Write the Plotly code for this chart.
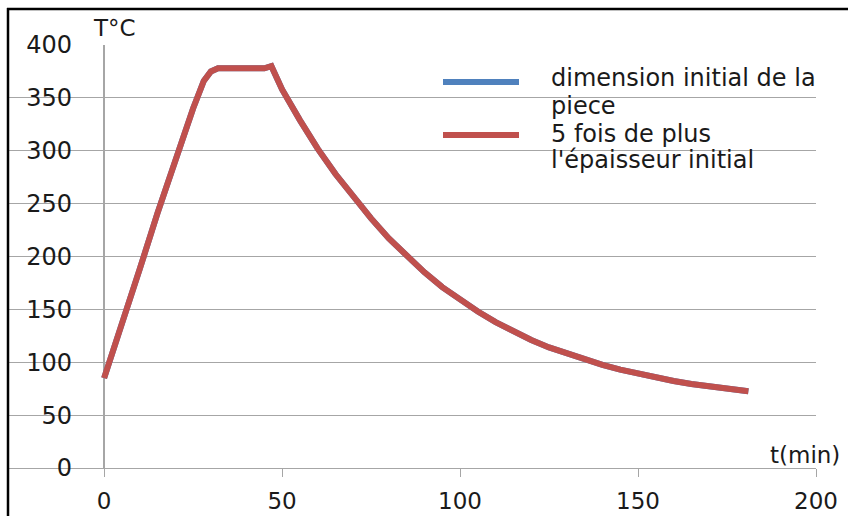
import plotly.graph_objects as go

# ---- data ----
t_min = [0, 5, 10, 15, 20, 25, 28, 30, 32, 35, 40, 45, 47,
         50, 55, 60, 65, 70, 75, 80, 85, 90, 95, 100, 105, 110, 115, 120,
         125, 130, 135, 140, 145, 150, 155, 160, 165, 170, 175, 181]
temp_initial = [85, 135, 188, 241, 291, 340, 366, 375, 378, 378, 378, 378, 380,
                358, 329, 302, 278, 256, 236, 217, 200, 185, 171, 159, 148, 138, 129, 121,
                114, 108, 102.5, 97.5, 93, 89, 85.5, 82.3, 79.5, 77, 74.8, 72.6]
temp_5x = list(temp_initial)

series_names = ["dimension initial de la piece", "5 fois de plus l'épaisseur initial"]
legend_lines = ["dimension initial de la", "piece", "5 fois de plus", "l'épaisseur initial"]
x_ticks = [0, 50, 100, 150, 200]
y_ticks = [0, 50, 100, 150, 200, 250, 300, 350, 400]

BLUE = "#4F81BD"
RED = "#C0504D"
GRID = "#A6A6A6"
TXT = "#1a1a1a"
FONT = "DejaVu Sans"

W, H = 848, 516
ML, MR, MT, MB = 8, 32, 45, 48
PW, PH = W - ML - MR, H - MT - MB


def px(xp):
    return (xp - ML) / PW


def py(yp):
    return (H - MB - yp) / PH


fig = go.Figure()
fig.add_trace(go.Scatter(x=t_min, y=temp_initial, mode="lines", name=series_names[0],
                         line=dict(color=BLUE, width=6)))
fig.add_trace(go.Scatter(x=t_min, y=temp_5x, mode="lines", name=series_names[1],
                         line=dict(color=RED, width=6)))

fig.update_layout(
    width=W, height=H,
    margin=dict(l=ML, r=MR, t=MT, b=MB),
    paper_bgcolor="white", plot_bgcolor="white",
    showlegend=False,
    font=dict(family=FONT, color=TXT),
    xaxis=dict(range=[-27, 200], tickvals=x_ticks, ticks="outside", ticklen=8,
               tickcolor=GRID, tickwidth=1, showgrid=False,
               zeroline=True, zerolinecolor=GRID, zerolinewidth=1.5,
               showline=True, linecolor=GRID, linewidth=1, ticklabelstandoff=4,
               automargin=False,
               tickfont=dict(size=23, family=FONT, color=TXT), anchor="y"),
    yaxis=dict(range=[0, 400], tickvals=y_ticks, ticks="", showgrid=True,
               gridcolor=GRID, gridwidth=1.2, zeroline=False, showline=False,
               anchor="free", position=px(72), automargin=False,
               tickfont=dict(size=24, family=FONT, color=TXT)),
)

shapes = [
    # legend background
    dict(type="rect", xref="paper", yref="paper", x0=px(522), x1=px(848),
         y0=py(178), y1=py(60), fillcolor="white", line=dict(width=0), layer="between"),
    # legend samples
    dict(type="line", xref="paper", yref="paper", x0=px(443), x1=px(519),
         y0=py(82), y1=py(82), line=dict(color=BLUE, width=6)),
    dict(type="line", xref="paper", yref="paper", x0=px(443), x1=px(519),
         y0=py(135), y1=py(135), line=dict(color=RED, width=6)),
    # frame
    dict(type="line", xref="paper", yref="paper", x0=px(8), x1=px(8),
         y0=py(530), y1=py(8), line=dict(color="black", width=2.5)),
    dict(type="line", xref="paper", yref="paper", x0=px(7), x1=px(860),
         y0=py(9), y1=py(9), line=dict(color="black", width=2.5)),
]
fig.update_layout(shapes=shapes)

ann = [
    dict(text="T°C", x=px(114.5), y=py(27.5), xanchor="center", yanchor="middle"),
    dict(text="t(min)", x=px(842), y=py(455), xanchor="right", yanchor="middle"),
]
for line_text, yc in zip(legend_lines, [78, 105.5, 133.5, 160]):
    ann.append(dict(text=line_text, x=px(549), y=py(yc), xanchor="left", yanchor="middle",
                    font=dict(size=24, family=FONT, color=TXT)))
for a in ann:
    a.setdefault("font", dict(size=23, family=FONT, color=TXT))
    fig.add_annotation(xref="paper", yref="paper", showarrow=False, **a)

fig.write_html("out.html", config={"displayModeBar": False},
               post_script="document.body.style.margin='0';document.body.style.padding='0';")
